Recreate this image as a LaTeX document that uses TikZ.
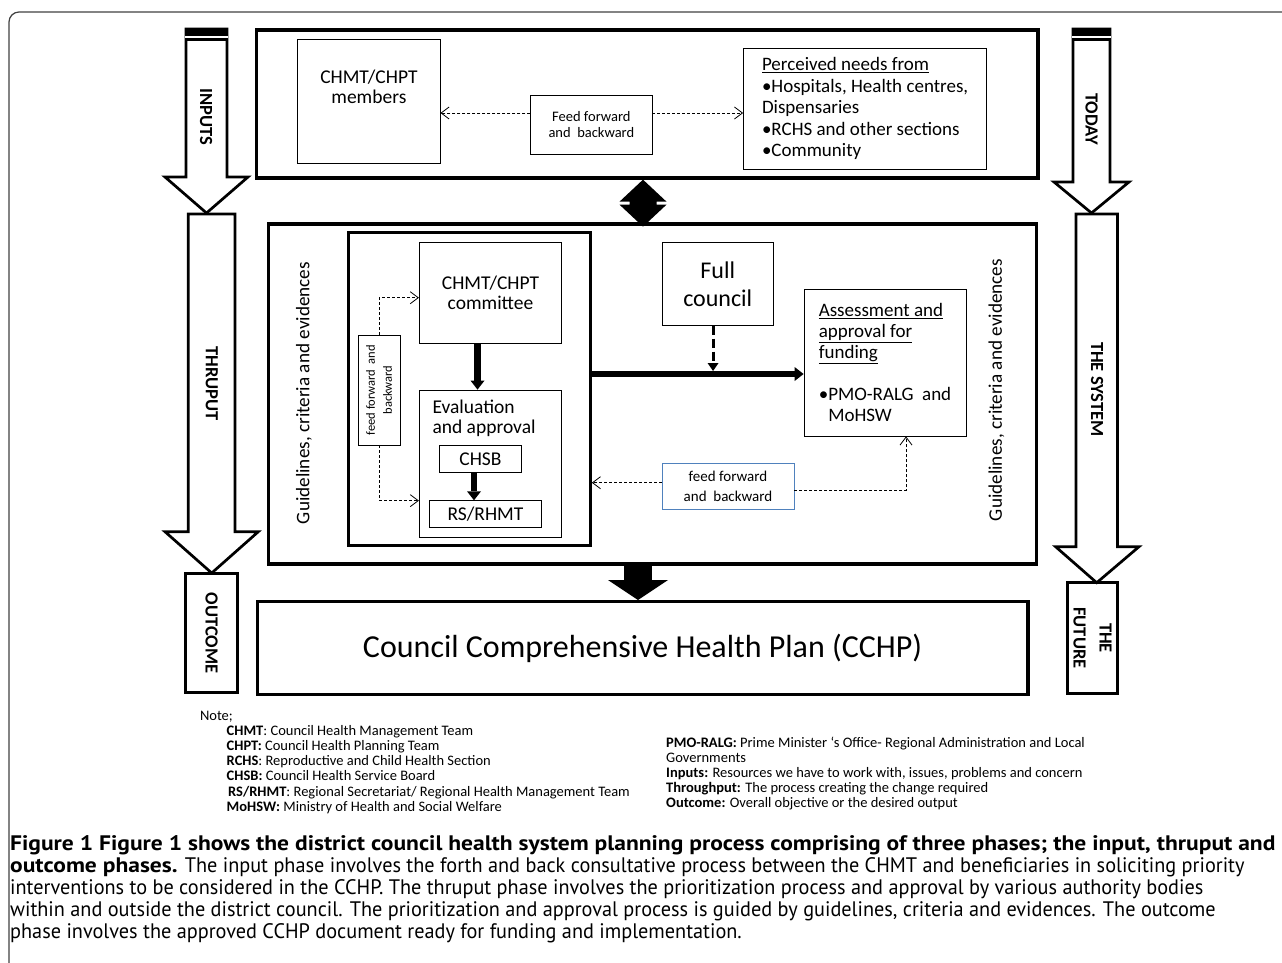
\documentclass[tikz,border=0pt]{standalone}
\usepackage{fontspec}
\setmainfont{Carlito}
\newfontfamily\capfont[FakeStretch=0.965]{PT Sans}
\newfontfamily\capbold[FakeStretch=1.12]{PT Sans}
\usetikzlibrary{arrows.meta}
\usetikzlibrary{positioning}

\definecolor{feedblue}{RGB}{79,129,189}

\begin{document}
\begin{tikzpicture}[
      x=1pt, y=-1pt,
      frame_box/.style={draw, line width=3.3pt, inner sep=0pt},
      inner_box/.style={draw, line width=2.7pt, inner sep=0pt},
      thin_box/.style={draw, line width=0.8pt, inner sep=0pt, align=center},
      phase_arrow/.style={draw, fill=white, line width=2.7pt},
      phase_label/.style={rotate=-90, inner sep=0pt, align=center, font=\fontsize{18.5}{26}\selectfont\bfseries},
      guide_label/.style={rotate=90, inner sep=0pt, font=\fontsize{19.2}{22}\selectfont},
      box_text/.style={inner sep=0pt, align=left, font=\fontsize{19.5}{20}\selectfont},
      feed_line/.style={line width=0.8pt, dash pattern=on 3pt off 2pt, -{Straight Barb[length=8pt,width=12pt]}},
      flow_arrow/.style={line width=6.5pt, -{Triangle[length=9pt,width=14pt,line width=0pt]}},
      note_text/.style={anchor=north west, inner sep=0pt, align=left, font=\fontsize{14.5}{15.2}\selectfont}
    ]

    \useasboundingbox (0,0) rectangle (1282,962);
    \clip (0,0) rectangle (1282,962);

    % ------------------------------------------------------------------ %
    % Figure frame
    % ------------------------------------------------------------------ %

    \draw[line width=1.2pt, black!75, rounded corners=10pt] (9,12) rectangle (1320,1000);

    % ------------------------------------------------------------------ %
    % Phase arrows (left and right)
    % ------------------------------------------------------------------ %

    % thruput / the system
    \draw[phase_arrow] (188.3,214) -- (235,214) -- (235,531.7) -- (258.3,531.7) -- (211.7,573) -- (165,531.7) -- (188.3,531.7) -- cycle;
    \draw[phase_arrow] (1076,214) -- (1117.4,214) -- (1117.4,546.7) -- (1139,546.7) -- (1096.7,582.7) -- (1055.6,546.7) -- (1076,546.7) -- cycle;

    % inputs / today
    \draw[phase_arrow] (186,29) -- (227,29) -- (227,177) -- (248,177) -- (206.5,213) -- (165,177) -- (186,177) -- cycle;
    \draw[phase_arrow] (1073,29) -- (1110,29) -- (1110,182) -- (1129,182) -- (1091.5,213) -- (1054,182) -- (1073,182) -- cycle;

    % caps on top of the arrows
    \fill (184.6,28) rectangle (228.4,41);
    \fill (1071.6,28) rectangle (1111.4,41);
    \draw[white, line width=1.4pt] (185,36.8) -- (228,36.8);
    \draw[white, line width=1.4pt] (1072,36.8) -- (1111,36.8);

    % outcome / the future
    \node[draw, line width=2.5pt, minimum width=51.7pt, minimum height=119.4pt] (outcome) at (211.5,633) {};
    \node[draw, line width=2.5pt, minimum width=50.4pt, minimum height=110.6pt] (future) at (1092.5,638) {};

    \node[phase_label] (inputs_lbl) at (206,117) {INPUTS};
    \node[phase_label] (today_lbl) at (1091.5,119) {TODAY};
    \node[phase_label] (thruput_lbl) at (211.7,383.5) {THRUPUT};
    \node[phase_label] (system_lbl) at (1097,389.5) {THE SYSTEM};
    \node[phase_label] (outcome_lbl) at (outcome.center) {OUTCOME};
    \node[phase_label] (future_lbl) at (future.center) {THE\\FUTURE};

    % ------------------------------------------------------------------ %
    % Input phase
    % ------------------------------------------------------------------ %

    \node[frame_box, minimum width=781.3pt, minimum height=148pt] (inputs_box) at (647.35,104) {};
    \node[thin_box, minimum width=142.3pt, minimum height=124pt] (members) at (368.9,101) {};
    \node[box_text, anchor=north, align=center, below=31pt of members.north] (members_txt) {CHMT/CHPT\\members};
    \node[thin_box, minimum width=121.3pt, minimum height=59pt, font=\fontsize{14.5}{16}\selectfont] (feed_top) at (591.35,124.5) {Feed forward\\and\ \ backward};
    \node[thin_box, align=left, minimum width=243.2pt, minimum height=121pt, font=\fontsize{19}{21.5}\selectfont] (needs) at (865.1,108.5)
      {\underline{Perceived needs from}\\•Hospitals, Health centres,\\Dispensaries\\•RCHS and other sections\\•Community};

    \draw[feed_line] ([yshift=11.5pt]feed_top.west) -- ([yshift=11.5pt]feed_top.west -| members.east);
    \draw[feed_line] ([yshift=11.5pt]feed_top.east) -- ([yshift=11.5pt]feed_top.east -| needs.west);

    % ------------------------------------------------------------------ %
    % Thruput phase
    % ------------------------------------------------------------------ %

    \node[frame_box, minimum width=768.5pt, minimum height=340pt] (thruput_box) at (652.55,394) {};
    \node[inner_box, minimum width=242.2pt, minimum height=313.4pt] (district) at (469.4,389) {};

    \node[guide_label] (guide_left) at (304,393) {Guidelines, criteria and evidences};
    \node[guide_label] (guide_right) at (996.5,390) {Guidelines, criteria and evidences};

    \node[thin_box, minimum width=142.4pt, minimum height=100.6pt, font=\fontsize{19.5}{20}\selectfont] (committee) at (490.5,293) {CHMT/CHPT\\committee};
    \node[thin_box, minimum width=142.4pt, minimum height=147.3pt] (evaluation) at (490.5,463.65) {};
    \node[box_text, anchor=north west, below right=10pt and 13.4pt of evaluation.north west] (evaluation_txt) {Evaluation\\and approval};
    \node[thin_box, minimum width=82.4pt, minimum height=27.7pt, font=\fontsize{19.5}{20}\selectfont] (chsb) at (480.5,458.85) {CHSB};
    \node[thin_box, minimum width=112.4pt, minimum height=26.6pt, font=\fontsize{19.5}{20}\selectfont] (rhmt) at (485.5,514) {RS/RHMT};

    % rotated box: east is its top, west its bottom
    \node[thin_box, rotate=90, minimum width=110pt, minimum height=41.7pt, font=\fontsize{12.5}{17}\selectfont] (feed_left) at (379.15,390) {feed forward\ \ and\\backward};

    \node[thin_box, minimum width=111.5pt, minimum height=82.6pt, font=\fontsize{24}{27.6}\selectfont] (council) at (717.75,284) {Full\\council};
    \node[thin_box, align=left, minimum width=162pt, minimum height=147pt, font=\fontsize{19}{21}\selectfont] (assessment) at (885,362.5)
      {\underline{Assessment and}\\\underline{approval for}\\\underline{funding}\\[21pt]•PMO-RALG\ \ and\\\hphantom{•}MoHSW};
    \node[thin_box, draw=feedblue, minimum width=132pt, minimum height=46pt, font=\fontsize{15}{20.7}\selectfont] (feed_right) at (728,486.3) {feed forward\\and\ \ backward};

    % flow inside the district
    \draw[flow_arrow] ([xshift=-13pt]committee.south) -- ([xshift=-13pt]committee.south |- evaluation.north);
    \draw[flow_arrow] ([xshift=-6.5pt]chsb.south) -- ([xshift=-6.5pt]chsb.south |- rhmt.north);

    \draw[feed_line] (feed_left.east) |- ([yshift=-4.7pt]committee.west);
    \draw[feed_line] (feed_left.west) |- ([yshift=-37pt]evaluation.west);

    % flow to the regional/national level
    \coordinate (flow_start) at ([yshift=15pt]district.east);
    \draw[flow_arrow] (flow_start) -- (flow_start -| assessment.west);
    \draw[line width=3pt, dash pattern=on 9pt off 4pt, -{Triangle[length=8pt,width=11pt,line width=0pt]}] ([xshift=-4.7pt]council.south) -- ([xshift=-4.7pt,yshift=3pt]council.south |- flow_start);

    \draw[feed_line] ([yshift=3.6pt]feed_right.west) -- ([yshift=3.6pt]feed_right.west -| district.east);
    \draw[feed_line] ([yshift=-4.4pt]feed_right.east) -| ([xshift=21pt]assessment.south);

    % ------------------------------------------------------------------ %
    % Outcome phase
    % ------------------------------------------------------------------ %

    \node[frame_box, minimum width=770.8pt, minimum height=92.6pt, font=\fontsize{32}{36}\selectfont] (cchp) at (642.6,648) {Council Comprehensive Health Plan (CCHP)};

    % block arrows between the phases
    \coordinate (link_top) at ([xshift=-4.35pt]inputs_box.south);
    \fill (link_top) -- ++(23.5,22) -- ++(-10,0) -- ++(0,3) -- ++(10,0) -- ++(-23.5,22)
      -- ++(-23.5,-22) -- ++(10,0) -- ++(0,-3) -- ++(-10,0) -- cycle;
    \draw[line width=28pt, -{Triangle[length=20pt,width=60pt,line width=0pt]}]
      ([xshift=-4.6pt]cchp.north |- thruput_box.south) -- ([xshift=-4.6pt]cchp.north);

    % ------------------------------------------------------------------ %
    % Notes and caption
    % ------------------------------------------------------------------ %

    \node[note_text] (note_left) at (199.8,710.5) {Note;\\
      \hspace*{26.7pt}\textbf{CHMT}: Council Health Management Team\\
      \hspace*{26.7pt}\textbf{CHPT:} Council Health Planning Team\\
      \hspace*{26.7pt}\textbf{RCHS}: Reproductive and Child Health Section\\
      \hspace*{26.7pt}\textbf{CHSB:} Council Health Service Board\\
      \hspace*{28.2pt}\textbf{RS/RHMT}: Regional Secretariat/ Regional Health Management Team\\
      \hspace*{26.7pt}\textbf{MoHSW:} Ministry of Health and Social Welfare};
    \node[note_text] (note_right) at (666,736.5) {\textbf{PMO-RALG:} Prime Minister ‘s Office- Regional Administration and Local\\
      Governments\\
      \textbf{Inputs:} Resources we have to work with, issues, problems and concern\\
      \textbf{Throughput:} The process creating the change required\\
      \textbf{Outcome:} Overall objective or the desired output};

    \node[anchor=north west, inner sep=0pt, align=left, font=\capfont\fontsize{21}{22}\selectfont] (caption) at (10,835) {%
      {\capbold\bfseries Figure 1 Figure 1 shows the district council health system planning process comprising of three phases; the input, thruput and}\\
      {\capbold\bfseries outcome phases.} The input phase involves the forth and back consultative process between the CHMT and beneficiaries in soliciting priority\\
      interventions to be considered in the CCHP. The thruput phase involves the prioritization process and approval by various authority bodies\\
      within and outside the district council. The prioritization and approval process is guided by guidelines, criteria and evidences. The outcome\\
      phase involves the approved CCHP document ready for funding and implementation.};

    \end{tikzpicture}
\end{document}
